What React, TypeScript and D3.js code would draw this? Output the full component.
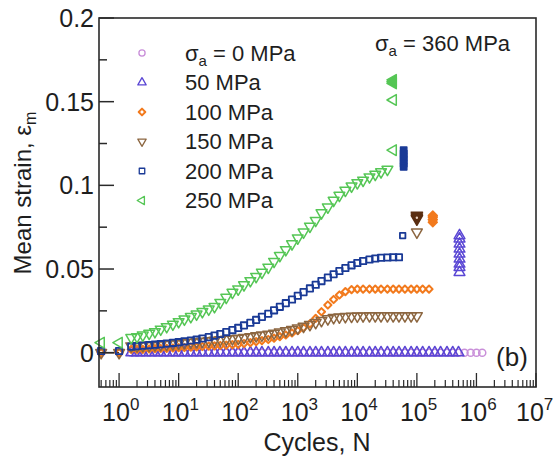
import React from 'react';
import * as d3 from 'd3';

// cycles at which the strain was logged (shared by all curves)
const CYCLES = [1.6, 2, 2.5, 3.2, 4, 5, 6.3, 8, 10, 12.5, 16, 20, 25, 32, 40, 50, 63, 80, 100, 125,
  160, 200, 250, 320, 400, 500, 630, 800, 1000, 1250, 1600, 2000, 2500, 3200, 4000, 5000, 6300, 8000,
  1e4, 12500, 16000, 20000, 25000, 32000, 40000, 50000, 63000, 80000, 1e5, 125000, 160000, 200000,
  250000, 320000, 400000, 500000, 630000, 800000, 1e6, 1250000];
const PRE_CYCLES = [0.5, 1];

const S0 = [0, 0, 0, 0, 0, 0, 0, 0, 0, 0, 0, 0, 0, 0, 0, 0, 0, 0, 0, 0, 0, 0, 0, 0, 0, 0, 0, 0, 0, 0,
  0, 0, 0, 0, 0, 0, 0, 0, 0, 0, 0, 0, 0, 0, 0, 0, 0, 0, 0, 0, 0, 0, 0, 0, 0, 0, 0, 0, 0, 0];
const S50 = [0, 0, 0, 0, 0, 0, 0, 0, 0, 0, 0, 0, 0, 0, 0, 0, 0, 0, 0, 0, 0, 0, 0, 0, 0, 0, 0, 0,
  0, 0, 0, 0, 0, 0, 0, 0, 0, 0, 0, 0, 0, 0, 0, 0, 0, 0, 0, 0, 0, 0, 0, 0, 0, 0, 0, 0];
const S100 = [0.002, 0.002, 0.002, 0.0022, 0.0024, 0.0025, 0.0026, 0.0028, 0.003, 0.0031, 0.0033,
  0.0035, 0.0037, 0.0039, 0.0041, 0.0043, 0.0045, 0.0048, 0.005, 0.0055, 0.006, 0.0066, 0.0072,
  0.0079, 0.0087, 0.0096, 0.0106, 0.0118, 0.0132, 0.015, 0.0172, 0.0205, 0.0245, 0.0285, 0.0318,
  0.0345, 0.0365, 0.0377, 0.038, 0.038, 0.038, 0.038, 0.038, 0.038, 0.038, 0.038, 0.038, 0.038,
  0.038, 0.038, 0.038];
const S150 = [0.004, 0.0041, 0.0042, 0.0044, 0.0046, 0.0048, 0.005, 0.0053, 0.0056, 0.0059, 0.0062,
  0.0065, 0.0068, 0.0071, 0.0074, 0.0077, 0.008, 0.0083, 0.0086, 0.009, 0.0095, 0.01, 0.0105, 0.011,
  0.0116, 0.0123, 0.013, 0.0138, 0.0147, 0.0157, 0.0168, 0.018, 0.0192, 0.0202, 0.0209, 0.0213,
  0.0215, 0.0217, 0.0218, 0.0219, 0.022, 0.022, 0.022, 0.022, 0.022, 0.022, 0.022, 0.022, 0.022];
const S200 = [0.0036, 0.0039, 0.0042, 0.0045, 0.0048, 0.0051, 0.0055, 0.0059, 0.0063, 0.0068, 0.0073,
  0.0078, 0.0085, 0.0093, 0.0102, 0.0112, 0.0123, 0.0135, 0.0148, 0.0163, 0.0179, 0.0196, 0.0214,
  0.0233, 0.0253, 0.0274, 0.0296, 0.0318, 0.034, 0.0362, 0.0384, 0.0406, 0.0428, 0.0449, 0.0469,
  0.0488, 0.0506, 0.0522, 0.0536, 0.0548, 0.0557, 0.0563, 0.0567, 0.0569, 0.057, 0.057];
const S250 = [0.009, 0.0095, 0.0105, 0.0115, 0.0125, 0.014, 0.0155, 0.017, 0.0185, 0.02, 0.0215,
  0.023, 0.0245, 0.026, 0.0275, 0.03, 0.033, 0.036, 0.038, 0.0405, 0.043, 0.0455, 0.048, 0.051,
  0.0545, 0.058, 0.0615, 0.065, 0.0685, 0.072, 0.0755, 0.079, 0.0835, 0.087, 0.091, 0.094, 0.097,
  0.0995, 0.1015, 0.103, 0.105, 0.1065, 0.108, 0.1095];

// values before cycling starts (N = 0.5, 1)
const PRE0 = [0, 0];
const PRE100 = [0, 0];
const PRE150 = [0, 0];
const PRE200 = [0.001, 0.001];
const PRE250 = [0.006, 0.006];

// points taken at sigma_a = 360 MPa (one cycle count per curve)
const FAIL50_N = 5.2e5;
const FAIL50 = [0.048, 0.051, 0.053, 0.056, 0.059, 0.062, 0.065, 0.068, 0.07];
const FAIL100_N = 1.85e5;
const FAIL100 = [0.078, 0.0795, 0.081, 0.082];
const FAIL150_N = 1e5;
const FAIL150_OPEN = [0.072];
const FAIL150 = [0.08, 0.081, 0.082];
const FAIL200_N = 6e4;
const FAIL200_OPEN = [0.07];
const FAIL200 = [0.111, 0.113, 0.115, 0.117, 0.119, 0.121];
const FAIL250_N = 4e4;
const FAIL250_OPEN = [0.121, 0.151];
const FAIL250 = [0.161, 0.162, 0.163];

const LEGEND = ['0 MPa', '50 MPa', '100 MPa', '150 MPa', '200 MPa', '250 MPa'];
const Y_TICKS = [0, 0.05, 0.1, 0.15, 0.2];
const Y_MINOR = [0.025, 0.075, 0.125, 0.175];
const X_TICKS = [1, 10, 100, 1e3, 1e4, 1e5, 1e6, 1e7];

const C0 = '#c98fd9';
const C50 = '#5a46d4';
const C100 = '#f27a1d';
const C150 = '#8c6640';
const C200 = '#1a3a96';
const C250 = '#55c655';
const C150D = '#5a2e12';

const W = 554, H = 459;
const FONT = '"Liberation Sans", Arial, sans-serif';
const x = d3.scaleLog().domain([0.46, 1e7]).range([99, 536]);
const y = d3.scaleLinear().domain([-0.0205, 0.2]).range([387, 18]);

const shapes = {
  circle: { type: d3.symbolCircle, rot: 0, size: 40 },
  up: { type: d3.symbolTriangle, rot: 0, size: 50 },
  down: { type: d3.symbolTriangle, rot: 180, size: 50 },
  left: { type: d3.symbolTriangle, rot: -90, size: 50 },
  diamond: { type: d3.symbolSquare, rot: 45, size: 26 },
  square: { type: d3.symbolSquare, rot: 0, size: 40 },
};

const Mark = ({ shape, cx, cy, color, fill = 'none', size, sw = 1.5 }: any) => {
  const s = shapes[shape];
  const d = d3.symbol().type(s.type).size(size || s.size)();
  return <path d={d} transform={`translate(${cx},${cy}) rotate(${s.rot})`} fill={fill}
    stroke={color} strokeWidth={sw} strokeLinejoin="round" />;
};

const series = [
  { vals: S0, pre: PRE0, shape: 'circle', color: C0 },
  { vals: S50, pre: null, shape: 'up', color: C50 },
  { vals: S100, pre: PRE100, shape: 'diamond', color: C100, sw: 2 },
  { vals: S150, pre: PRE150, shape: 'down', color: C150 },
  { vals: S200, pre: PRE200, shape: 'square', color: C200, sw: 1.8 },
  { vals: S250, pre: PRE250, shape: 'down', color: C250, preShape: 'left' },
];

const legendShapes = [
  ['circle', C0], ['up', C50], ['diamond', C100], ['down', C150], ['square', C200], ['left', C250],
];

export default function App() {
  const xMinor: number[] = [];
  for (let e = -1; e < 7; e++) {
    for (let k = 2; k < 10; k++) {
      const v = k * Math.pow(10, e);
      if (v > 0.46 && v < 1e7) xMinor.push(v);
    }
  }
  const ax = '#2a2a2a';
  const tc = '#1e1e1e';
  return (
    <svg width={W} height={H} style={{ position: 'absolute', left: 0, top: 0 }} fontFamily={FONT}>
      <rect width={W} height={H} fill="#fff" />

      {/* pre-cycling line */}
      <line x1={x(PRE_CYCLES[0])} x2={x(PRE_CYCLES[1])} y1={y(PRE150[0])} y2={y(PRE150[1])}
        stroke={C150D} strokeWidth={1.5} />

      {series.map((s, i) => (
        <g key={i}>
          {s.pre && s.pre.map((v, j) => (
            <Mark key={'p' + j} shape={s.preShape || s.shape} cx={x(PRE_CYCLES[j])} cy={y(v)} color={s.color} sw={s.sw} />
          ))}
          {s.vals.map((v, j) => (
            <Mark key={j} shape={s.shape} cx={x(CYCLES[j])} cy={y(v)} color={s.color} sw={s.sw} />
          ))}
        </g>
      ))}

      {/* sigma_a = 360 MPa */}
      {FAIL50.map((v, j) => <Mark key={'f50' + j} shape="up" cx={x(FAIL50_N)} cy={y(v)} color={C50} />)}
      {FAIL100.map((v, j) => <Mark key={'f100' + j} shape="diamond" cx={x(FAIL100_N)} cy={y(v)} color={C100} fill={C100} size={40} />)}
      {FAIL150_OPEN.map((v, j) => <Mark key={'f150o' + j} shape="down" cx={x(FAIL150_N)} cy={y(v)} color={C150} />)}
      {FAIL150.map((v, j) => <Mark key={'f150' + j} shape="down" cx={x(FAIL150_N)} cy={y(v)} color={C150D} fill={C150D} size={55} />)}
      <circle cx={x(FAIL150_N)} cy={y(FAIL150[0]) - 1} r={1.2} fill="#e8d0c0" />
      {FAIL200_OPEN.map((v, j) => <Mark key={'f200o' + j} shape="square" cx={x(FAIL200_N) - 1} cy={y(v)} color={C200} sw={1.8} size={30} />)}
      {FAIL200.map((v, j) => <Mark key={'f200' + j} shape="square" cx={x(FAIL200_N)} cy={y(v)} color={C200} fill={C200} />)}
      {FAIL250_OPEN.map((v, j) => <Mark key={'f250o' + j} shape="left" cx={x(FAIL250_N)} cy={y(v)} color={C250} />)}
      {FAIL250.map((v, j) => <Mark key={'f250' + j} shape="left" cx={x(FAIL250_N)} cy={y(v)} color={C250} fill={C250} />)}

      {/* frame */}
      <rect x={99} y={18} width={437} height={369} fill="none" stroke={ax} strokeWidth={1.6} />

      {/* y ticks */}
      {Y_TICKS.map(t => (
        <g key={'y' + t}>
          <line x1={99} x2={114} y1={y(t)} y2={y(t)} stroke={ax} strokeWidth={1.5} />
          <text x={94} y={y(t)} dy="0.36em" textAnchor="end" fontSize={25} fill={tc}>{String(t)}</text>
        </g>
      ))}
      {Y_MINOR.map(t => (
        <line key={'ym' + t} x1={99} x2={107} y1={y(t)} y2={y(t)} stroke={ax} strokeWidth={1.5} />
      ))}

      {/* x ticks */}
      {X_TICKS.map((t, i) => (
        <g key={'x' + t}>
          <line x1={x(t)} x2={x(t)} y1={387} y2={373} stroke={ax} strokeWidth={1.3} />
          <text x={x(t) - (i === X_TICKS.length - 1 ? 20 : 17)} y={421} fontSize={25} fill={tc}>
            10<tspan fontSize={17} dy={-11}>{i}</tspan>
          </text>
        </g>
      ))}
      {xMinor.map(t => (
        <line key={'xm' + t} x1={x(t)} x2={x(t)} y1={387} y2={380} stroke={ax} strokeWidth={1.2} />
      ))}

      {/* axis titles */}
      <text x={317} y={451} textAnchor="middle" fontSize={25} fill={tc}>Cycles, N</text>
      <text transform="translate(31,193) rotate(-90)" textAnchor="middle" fontSize={24} fill={tc}>
        Mean strain, ε<tspan fontSize={16} dy={5}>m</tspan>
      </text>

      {/* legend */}
      {LEGEND.map((l, i) => {
        const ly = 53 + i * 29.5;
        const [sh, c] = legendShapes[i];
        return (
          <g key={'l' + i}>
            <Mark shape={sh} cx={142} cy={ly} color={c} size={sh === 'diamond' ? 22 : 30} sw={sh === 'diamond' ? 2 : 1.3} />
            {i === 0 ? (
              <text x={185} y={ly} dy="0.36em" fontSize={22} fill={tc}>
                σ<tspan fontSize={15} dy={5}>a</tspan><tspan dy={-5}> = {l}</tspan>
              </text>
            ) : (
              <text x={185} y={ly} dy="0.36em" fontSize={22} fill={tc}>{l}</text>
            )}
          </g>
        );
      })}
      <text x={375} y={51} fontSize={22} fill={tc}>
        σ<tspan fontSize={15} dy={5}>a</tspan><tspan dy={-5}> = 360 MPa</tspan>
      </text>
      <text x={512} y={366} textAnchor="middle" fontSize={26} fill={tc}>(b)</text>
    </svg>
  );
}
